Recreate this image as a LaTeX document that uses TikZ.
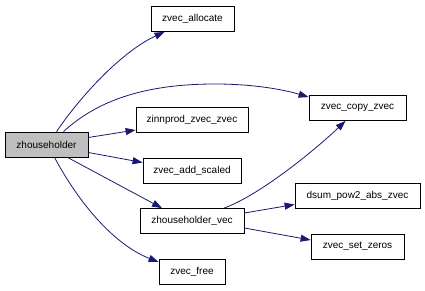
\documentclass[tikz,border=0pt]{standalone}
\usepackage{fontspec}
\setmainfont{Liberation Sans}
\usetikzlibrary{arrows.meta}
\definecolor{edgeblue}{RGB}{25,25,112}
\definecolor{rootgray}{RGB}{191,191,191}
\begin{document}
\begin{tikzpicture}[x=1pt,y=1pt,
  fn/.style={draw=black,line width=0.8pt,fill=white,inner sep=0pt,
    minimum height=25pt,font=\fontsize{10}{12}\selectfont},
  call/.style={draw=edgeblue,line width=0.8pt,
    -{Triangle[length=10pt,width=7pt,fill=edgeblue]}}]
\useasboundingbox (0,0) rectangle (425,-291);
% functions
\node[fn,fill=rootgray,minimum width=83pt] (zh)    at (46.5,-144.5) {zhouseholder};
\node[fn,minimum width=83pt]  (alloc) at (192.5,-19)  {zvec\_allocate};
\node[fn,minimum width=97pt]  (copy)  at (357.5,-108) {zvec\_copy\_zvec};
\node[fn,minimum width=112pt] (inn)   at (192,-120)   {zinnprod\_zvec\_zvec};
\node[fn,minimum width=98pt]  (add)   at (192,-170.5) {zvec\_add\_scaled};
\node[fn,minimum width=104pt] (hv)    at (192,-221)   {zhouseholder\_vec};
\node[fn,minimum width=66pt]  (free)  at (192,-272)   {zvec\_free};
\node[fn,minimum width=125pt] (dsum)  at (357.5,-195.5) {dsum\_pow2\_abs\_zvec};
\node[fn,minimum width=93pt]  (zeros) at (357.5,-246.5) {zvec\_set\_zeros};
% calls
\draw[call] ([xshift=10pt]zh.north) .. controls (85,-90) and (125,-50) .. ([xshift=-28pt]alloc.south);
\draw[call] ([xshift=17pt]zh.north) .. controls (100,-98) and (150,-84) .. (215,-84)
  .. controls (255,-84) and (285,-90) .. ([yshift=-2pt]copy.north west);
\draw[call] ([yshift=7pt]zh.east) -- ([yshift=-10pt]inn.west);
\draw[call] ([yshift=-8pt]zh.east) -- ([yshift=8pt]add.west);
\draw[call] ([xshift=21pt]zh.south) -- ([xshift=-30pt]hv.north);
\draw[call] ([xshift=8pt]zh.south) .. controls (80,-205) and (115,-245) .. ([yshift=10pt]free.west);
\draw[call] ([xshift=32pt]hv.north) .. controls (260,-195) and (315,-150) .. ([xshift=-12pt]copy.south);
\draw[call] ([yshift=8pt]hv.east) -- ([yshift=-9pt]dsum.west);
\draw[call] ([yshift=-7pt]hv.east) -- ([yshift=6.5pt]zeros.west);
\end{tikzpicture}
\end{document}
